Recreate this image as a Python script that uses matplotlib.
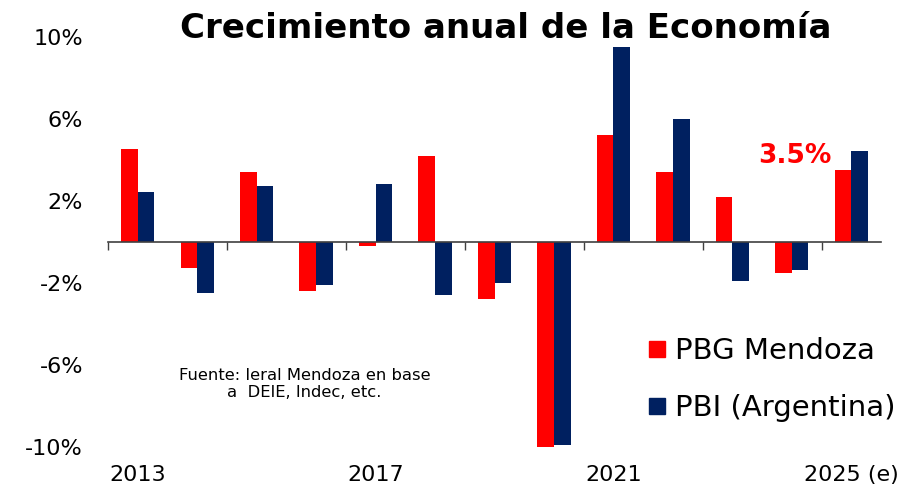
import matplotlib.pyplot as plt
import matplotlib.transforms as mtransforms
from matplotlib.patches import Patch
import numpy as np

plt.rcParams['font.family'] = ['DejaVu Sans']

# =============================
# Datos
# =============================
years = ["2013", "2014", "2015", "2016", "2017", "2018", "2019",
         "2020", "2021", "2022", "2023", "2024", "2025 (e)"]
mendoza = [4.5, -1.3, 3.4, -2.4, -0.2, 4.2, -2.8, -10.0, 5.2, 3.4, 2.2, -1.5, 3.5]
argentina = [2.4, -2.5, 2.7, -2.1, 2.8, -2.6, -2.0, -9.9, 9.5, 6.0, -1.9, -1.4, 4.4]
ytick_vals = [-10, -6, -2, 2, 6, 10]
shown_years = ["2013", "2017", "2021", "2025 (e)"]

RED = "#FF0000"
NAVY = "#002060"

# =============================
# Figura
# =============================
fig = plt.figure(figsize=(9.19, 4.88), dpi=100)
ax = fig.add_axes([0.1175, 0.084, 0.8412, 0.8412])

x = np.arange(len(years))
w = 0.28
ax.bar(x - w / 2, mendoza, width=w, color=RED, label="PBG Mendoza")
ax.bar(x + w / 2, argentina, width=w, color=NAVY, label="PBI (Argentina)")

ax.set_xlim(-0.5, len(years) - 0.5)
ax.set_ylim(-10, 10)

# eje horizontal en cero
for s in ["left", "right", "top"]:
    ax.spines[s].set_visible(False)
ax.spines["bottom"].set_position(("data", 0))
ax.spines["bottom"].set_color("#404040")
ax.spines["bottom"].set_linewidth(1.2)
ax.set_xticks(np.arange(-0.5, len(years) - 1, 2))
ax.set_xticklabels([])
ax.tick_params(axis="x", length=6, width=1, color="#404040", direction="out")

ax.set_yticks(ytick_vals)
ax.set_yticklabels([f"{v}%" for v in ytick_vals], fontsize=16)
ax.tick_params(axis="y", length=0, pad=18)

# etiquetas de años abajo
trans = mtransforms.blended_transform_factory(ax.transData, ax.transAxes)
for i, y in enumerate(years):
    if y in shown_years:
        ax.text(i, -0.068, y, transform=trans, ha="center", va="center", fontsize=16)

# titulo
fig.text(0.55, 0.942, "Crecimiento anual de la Economía", ha="center", va="center",
         fontsize=24.5, fontweight="bold")

# anotacion 2025
ax.text(len(years) - 1.95, 4.2, f"{mendoza[-1]}%", ha="center", va="center",
        color=RED, fontsize=19, fontweight="bold")

# fuente
ax.text(0.254, 0.153, "Fuente: Ieral Mendoza en base\na  DEIE, Indec, etc.",
        transform=ax.transAxes, ha="center", va="center", fontsize=11.8, linespacing=1.15)

handles = [Patch(color=RED, label="PBG Mendoza"), Patch(color=NAVY, label="PBI (Argentina)")]
fig.legend(handles=handles, loc="upper left", bbox_to_anchor=(0.69, 0.339),
           frameon=False, fontsize=21, handlelength=0.55, handleheight=0.45,
           handletextpad=0.35, labelspacing=1.0, borderpad=0)

fig.savefig("out.png", dpi=100)
